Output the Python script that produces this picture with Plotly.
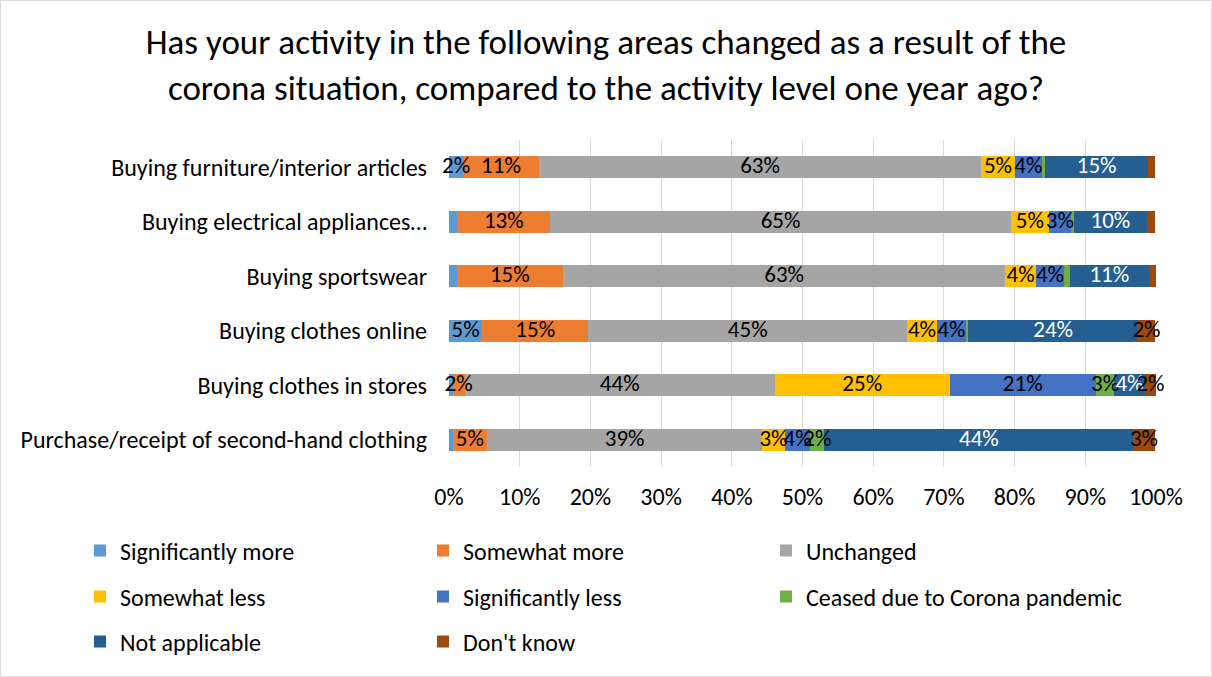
import plotly.graph_objects as go

# Survey areas, top to bottom
categories = [
    "Buying furniture/interior articles",
    "Buying electrical appliances…",
    "Buying sportswear",
    "Buying clothes online",
    "Buying clothes in stores",
    "Purchase/receipt of second-hand clothing",
]

# Share of respondents (%) per answer, same order as categories
significantly_more = [2.0, 1.2, 1.1, 4.7, 0.5, 0.5]
somewhat_more = [10.7, 13.1, 15.0, 15.0, 1.7, 4.9]
unchanged = [62.6, 65.2, 62.6, 45.1, 43.9, 38.9]
somewhat_less = [4.7, 5.3, 4.3, 4.2, 24.7, 3.2]
significantly_less = [3.9, 3.2, 4.0, 4.1, 20.7, 3.6]
ceased = [0.4, 0.4, 0.8, 0.3, 2.6, 2.0]
not_applicable = [14.6, 10.3, 11.2, 24.1, 4.3, 43.7]
dont_know = [1.0, 1.1, 1.1, 2.3, 1.6, 3.0]

x_ticks = [0, 10, 20, 30, 40, 50, 60, 70, 80, 90, 100]

series = [
    ("Significantly more", significantly_more, "#5B9BD5", "#000000"),
    ("Somewhat more", somewhat_more, "#ED7D31", "#000000"),
    ("Unchanged", unchanged, "#A5A5A5", "#000000"),
    ("Somewhat less", somewhat_less, "#FFC000", "#000000"),
    ("Significantly less", significantly_less, "#4472C4", "#000000"),
    ("Ceased due to Corona pandemic", ceased, "#70AD47", "#000000"),
    ("Not applicable", not_applicable, "#255E91", "#FFFFFF"),
    ("Don't know", dont_know, "#9E480E", "#000000"),
]

FONT = "Calibri, Carlito, Lato, sans-serif"
W, H = 1212, 677
ML, MR, MT, MB = 449, 56, 140, 210

# Legend grid: three columns, three rows below the chart
LEG_COL_X = [80, 423, 766]
LEG_ROW_Y = [551, 597, 642]

fig = go.Figure()
legends = {}
for i, (name, vals, color, tcolor) in enumerate(series):
    key = "legend" if i == 0 else f"legend{i + 1}"
    fig.add_trace(go.Bar(
        y=categories, x=vals, name=name, orientation="h",
        marker=dict(color=color, line=dict(width=0)),
        legend=key, hoverinfo="skip",
    ))
    legends[key] = dict(
        orientation="h", xref="container", yref="container",
        xanchor="left", yanchor="middle",
        x=LEG_COL_X[i % 3] / W, y=1 - LEG_ROW_Y[i // 3] / H,
        font=dict(size=24, family=FONT, color="#000000"),
        bgcolor="rgba(0,0,0,0)",
    )

# Data labels drawn on top of every segment, centred in each segment
base = [0.0] * len(categories)
for name, vals, color, tcolor in series:
    mids = [b + v / 2 for b, v in zip(base, vals)]
    labels = [f"{v:.0f}%" if v >= 1.5 else "" for v in vals]
    fig.add_trace(go.Scatter(
        x=mids, y=categories, mode="text", text=labels,
        textposition="middle center",
        textfont=dict(color=tcolor, size=23, family=FONT),
        showlegend=False, hoverinfo="skip", cliponaxis=False,
    ))
    base = [b + v for b, v in zip(base, vals)]

pw = W - ML - MR
ph = H - MT - MB

fig.update_layout(
    width=W, height=H,
    barmode="stack", bargap=0.6,
    margin=dict(l=ML, r=MR, t=MT, b=MB, autoexpand=False),
    paper_bgcolor="#FFFFFF", plot_bgcolor="#FFFFFF",
    font=dict(family=FONT, color="#000000"),
    title=dict(
        text="Has your activity in the following areas changed as a result of the<br>"
             "corona situation, compared to the activity level one year ago?",
        x=0.5, xref="container", xanchor="center",
        y=1 - 54 / H, yref="container", yanchor="middle",
        font=dict(size=35, family=FONT, color="#000000"),
    ),
    showlegend=True,
    xaxis=dict(
        range=[0, 100], tickvals=x_ticks, ticktext=[f"{t}%" for t in x_ticks],
        showgrid=True, gridcolor="#D9D9D9", gridwidth=1,
        zeroline=False, showline=False, ticks="", ticklabelstandoff=13,
        tickfont=dict(size=24, family=FONT, color="#000000"),
        fixedrange=True,
    ),
    yaxis=dict(
        autorange="reversed", showgrid=False, zeroline=False, showline=False,
        ticks="", ticklabelstandoff=21,
        tickfont=dict(size=24, family=FONT, color="#000000"),
        fixedrange=True,
    ),
    shapes=[dict(
        type="rect", xref="paper", yref="paper",
        x0=(0.5 - ML) / pw, x1=(W - 0.5 - ML) / pw,
        y0=-(H - 0.5 - MT - ph) / ph, y1=(H - 0.5 - MB) / ph,
        line=dict(color="#D9D9D9", width=1), fillcolor="rgba(0,0,0,0)",
        layer="below",
    )],
    **legends,
)

fig.write_html("out.html")
